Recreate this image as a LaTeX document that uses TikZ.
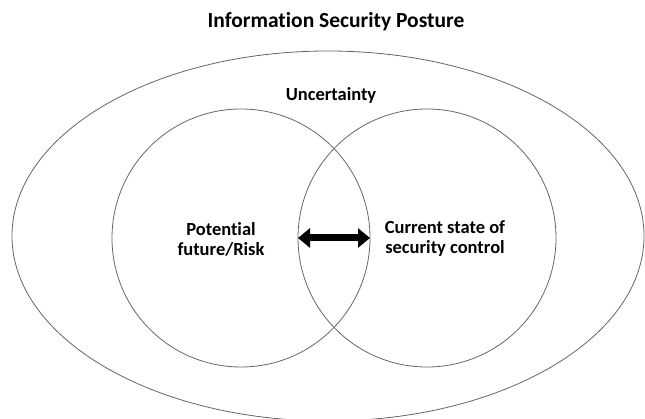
\documentclass[tikz,border=0pt]{standalone}
\usepackage{fontspec}
\setmainfont{Carlito}[Ligatures=NoCommon]
\usetikzlibrary{shapes.geometric,arrows.meta}
\tikzset{
  outline/.style={draw=black!60, line width=0.8pt, inner sep=0pt, outer sep=0pt},
  ring/.style={outline, circle, minimum size=258pt},
  label/.style={font=\bfseries\fontsize{18.5}{20}\selectfont, align=center, text=black},
  heading/.style={font=\bfseries\fontsize{21.5}{24}\selectfont, text=black, anchor=base},
  bigarrow/.style={line width=7pt, {Triangle[length=12pt,width=19pt]}-{Triangle[length=12pt,width=19pt]}}
}
\begin{document}
\begin{tikzpicture}[x=1pt,y=-1pt]
  \useasboundingbox (0,0) rectangle (645,419);
  % outer region and the two overlapping areas
  \node[outline, ellipse, minimum width=632pt, minimum height=370pt] (unc) at (328,236) {};
  \node[ring] (risk) at (241,238) {};
  \node[ring] (ctrl) at (427,238) {};
  % texts
  \node[heading] (title) at (336,28) {Information Security Posture};
  \node[label, anchor=base] (unclabel) at (331,101) {Uncertainty};
  \node[label] (risklabel) at (221,239) {Potential\\future/Risk};
  \node[label] (ctrllabel) at (445,239) {Current state of\\security control};
  % two-way relation in the overlap
  \draw[bigarrow] (ctrl.west) -- (risk.east);
\end{tikzpicture}
\end{document}
